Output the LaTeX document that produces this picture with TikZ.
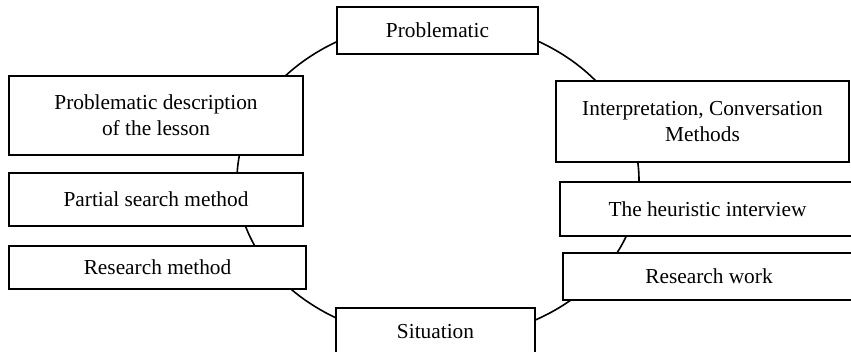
\documentclass[tikz,border=0pt]{standalone}
\usepackage{fontspec}
\setmainfont{Liberation Serif}

\tikzset{every picture/.style={line width=1.2pt}}
\tikzset{box/.style={draw, fill=white, rectangle, inner sep=0pt, align=center, font=\fontsize{16}{19.5}\selectfont},
  oneline/.style={text height=11pt, text depth=0pt}}

\begin{document}
\begin{tikzpicture}[x=0.75pt,y=0.75pt,yscale=-1,xscale=1]
\useasboundingbox (0,0) rectangle (851,351);

%Shape: Ellipse
\draw (438,180) ellipse [x radius=150.75pt, y radius=120pt];

% Text Node
\node [box, oneline, minimum width=150.75pt, minimum height=35.25pt] (prob) at (437.5,30.5) {Problematic};
% Text Node
\node [box, minimum width=220.5pt, minimum height=59.25pt] (descr) at (156,115.5) {Problematic description\\of the lesson};
% Text Node
\node [box, oneline, minimum width=220.5pt, minimum height=39.75pt] (partial) at (156,199.5) {Partial search method};
% Text Node
\node [box, oneline, minimum width=222.75pt, minimum height=32.25pt] (resmeth) at (157.5,267.5) {Research method};
% Text Node
\node [box, oneline, minimum width=149.25pt, minimum height=35.25pt] (situation) at (435.5,331.5) {Situation};
% Text Node
\node [box, minimum width=219.75pt, minimum height=60.75pt] (interp) at (702.5,121.5) {Interpretation, Conversation\\Methods};
% Text Node
\node [box, oneline, minimum width=221.25pt, minimum height=40.5pt] (heur) at (707.5,209) {The heuristic interview};
% Text Node
\node [box, oneline, minimum width=219pt, minimum height=35.25pt] (reswork) at (709,276.5) {Research work};

\end{tikzpicture}
\end{document}
